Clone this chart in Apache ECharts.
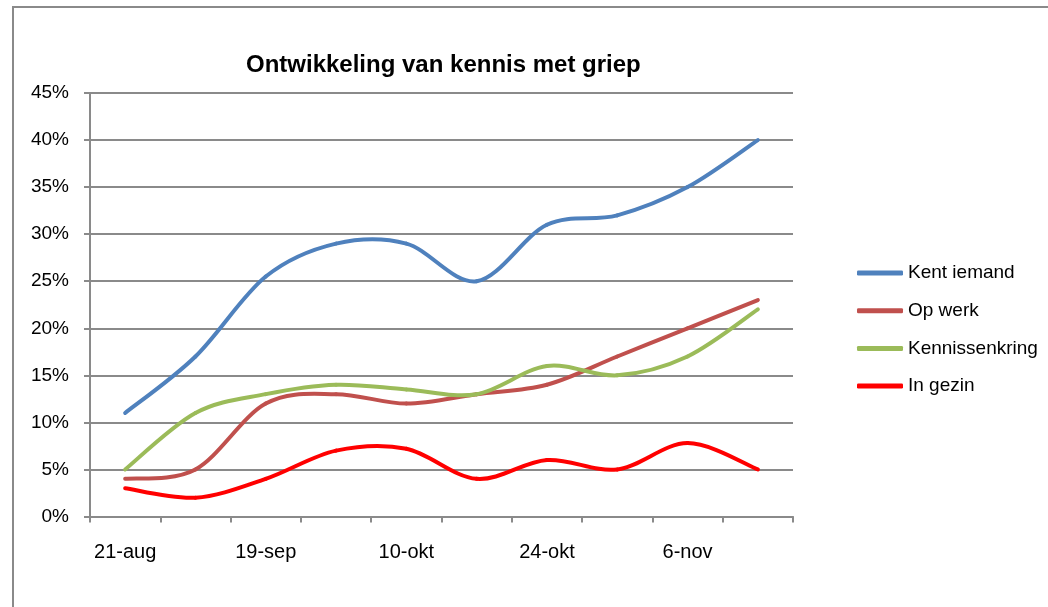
<!DOCTYPE html>
<html>
<head>
<meta charset="utf-8">
<script src="https://cdn.jsdelivr.net/npm/echarts@6/dist/echarts.min.js"></script>
<style>
html,body{margin:0;padding:0;background:#fff;}
#chart{width:1048px;height:607px;}
</style>
</head>
<body>
<div id="chart"></div>
<script>
const categories = ['21-aug', '4-sep', '19-sep', '1-okt', '10-okt', '17-okt', '24-okt', '30-okt', '6-nov', '13-nov'];
const kentIemand = [11, 17, 25.5, 29, 29, 25, 31, 32, 35, 40];
const opWerk = [4, 5, 12, 13, 12, 13, 14, 17, 20, 23];
const kennissenkring = [5, 11, 13, 14, 13.5, 13, 16, 15, 17, 22];
const inGezin = [3, 2, 4, 7, 7.2, 4, 6, 5, 7.8, 5];
const yTicks = [0, 5, 10, 15, 20, 25, 30, 35, 40, 45];

const FONT = '"Liberation Sans", Arial, sans-serif';
const GRID_GRAY = '#8a8a8a';
const COLORS = ['#4F81BD', '#C0504D', '#9BBB59', '#FF0000'];
const NAMES = ['Kent iemand', 'Op werk', 'Kennissenkring', 'In gezin'];

const chart = echarts.init(document.getElementById('chart'), null, {renderer: 'canvas'});

// Smooth line (Catmull-Rom style, like spreadsheet smoothed lines), drawn per segment
function mk(name, arr, color) {
  const n = arr.length;
  return {
    name: name, type: 'custom',
    data: arr.map(function (v, i) { return [i, v]; }),
    encode: {x: 0, y: 1},
    itemStyle: {color: color},
    renderItem: function (params, api) {
      const i = params.dataIndex;
      if (i >= n - 1) return null;
      function P(k) {
        const j = Math.max(0, Math.min(n - 1, k));
        return api.coord([j, arr[j]]);
      }
      const p0 = P(i - 1), p1 = P(i), p2 = P(i + 1), p3 = P(i + 2);
      const t = 1 / 6;
      return {
        type: 'bezierCurve',
        shape: {
          x1: p1[0], y1: p1[1], x2: p2[0], y2: p2[1],
          cpx1: p1[0] + (p2[0] - p0[0]) * t, cpy1: p1[1] + (p2[1] - p0[1]) * t,
          cpx2: p2[0] - (p3[0] - p1[0]) * t, cpy2: p2[1] - (p3[1] - p1[1]) * t
        },
        style: {stroke: color, lineWidth: 4, fill: 'none', lineCap: 'round'}
      };
    }
  };
}

chart.setOption({
  animation: false,
  backgroundColor: '#fff',
  graphic: [{
    type: 'rect', silent: true, z: -10,
    shape: {x: 13, y: 7, width: 1100, height: 700},
    style: {fill: 'none', stroke: '#8a8a8a', lineWidth: 2}
  }],
  title: {
    text: 'Ontwikkeling van kennis met griep',
    left: 241, top: 48,
    textStyle: {fontFamily: FONT, fontSize: 24, fontWeight: 'bold', color: '#000'}
  },
  legend: {
    orient: 'vertical', left: 852, top: 258,
    itemWidth: 46, itemHeight: 5, itemGap: 17.7,
    icon: 'roundRect',
    textStyle: {fontFamily: FONT, fontSize: 19, color: '#000', lineHeight: 20},
    data: NAMES.map(function (nm, k) { return {name: nm, itemStyle: {color: COLORS[k]}}; })
  },
  grid: {left: 90, right: 255, top: 93, bottom: 90.5, containLabel: false},
  xAxis: {
    type: 'category', data: categories, boundaryGap: true,
    axisLine: {show: true, lineStyle: {color: GRID_GRAY, width: 2}},
    axisTick: {show: true, interval: 0, length: 6, lineStyle: {color: GRID_GRAY, width: 2}},
    axisLabel: {interval: 1, margin: 26, fontFamily: FONT, fontSize: 20, color: '#000'},
    splitLine: {show: false}
  },
  yAxis: {
    type: 'value', min: yTicks[0], max: yTicks[yTicks.length - 1], interval: 5,
    axisLine: {show: true, lineStyle: {color: GRID_GRAY, width: 2}},
    axisTick: {show: true, length: 6, lineStyle: {color: GRID_GRAY, width: 2}},
    axisLabel: {margin: 21, fontFamily: FONT, fontSize: 19, color: '#000', formatter: '{value}%'},
    splitLine: {show: true, lineStyle: {color: GRID_GRAY, width: 2}}
  },
  series: [
    mk(NAMES[0], kentIemand, COLORS[0]),
    mk(NAMES[1], opWerk, COLORS[1]),
    mk(NAMES[2], kennissenkring, COLORS[2]),
    mk(NAMES[3], inGezin, COLORS[3])
  ]
});
</script>
</body>
</html>
